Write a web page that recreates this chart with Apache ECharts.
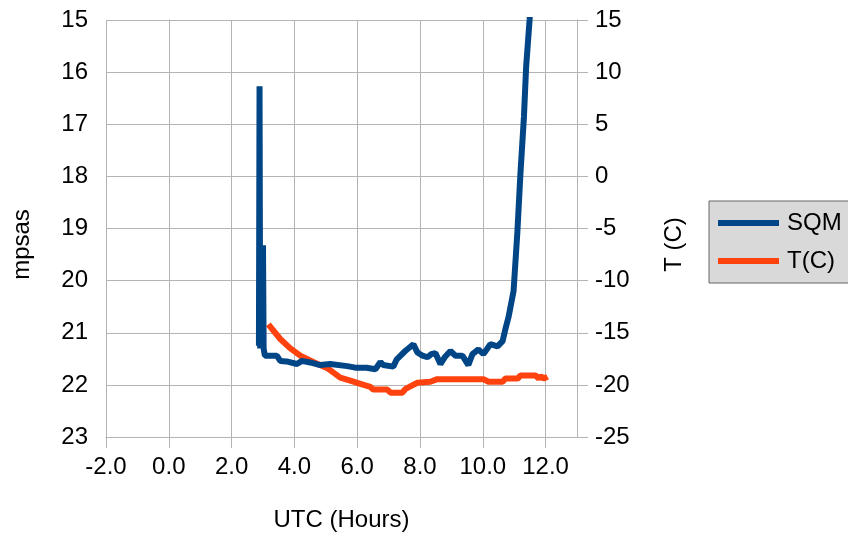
<!DOCTYPE html>
<html>
<head>
<meta charset="utf-8">
<script src="https://cdn.jsdelivr.net/npm/echarts@6/dist/echarts.min.js"></script>
<style>
  html, body { margin: 0; padding: 0; background: #ffffff; }
  #chart { width: 848px; height: 537px; }
</style>
</head>
<body>
<div id="chart"></div>
<script>
// ---- data ----
var xTickValues = [-2, 0, 2, 4, 6, 8, 10, 12];

var sqmHours  = [2.87, 2.89, 2.91, 2.96, 3.00, 3.02, 3.06, 3.44, 3.55, 3.75, 4.08, 4.24, 4.50, 4.82, 5.14, 5.68, 5.94, 6.30, 6.58, 6.74, 6.83, 7.15, 7.26, 7.53, 7.79, 7.92, 8.08, 8.24, 8.36, 8.49, 8.65, 8.80, 8.97, 9.13, 9.35, 9.54, 9.67, 9.86, 10.02, 10.24, 10.47, 10.63, 10.72, 10.82, 10.98, 11.10, 11.20, 11.31, 11.38, 11.49, 11.58];
var sqmValues = [21.25, 16.27, 21.30, 21.28, 19.32, 21.30, 21.44, 21.44, 21.54, 21.55, 21.60, 21.54, 21.57, 21.62, 21.60, 21.64, 21.67, 21.67, 21.70, 21.56, 21.62, 21.65, 21.51, 21.35, 21.22, 21.38, 21.44, 21.47, 21.41, 21.39, 21.60, 21.46, 21.35, 21.44, 21.44, 21.62, 21.41, 21.32, 21.41, 21.22, 21.26, 21.16, 20.93, 20.70, 20.20, 19.08, 17.93, 16.86, 15.90, 15.00, 14.20];

var tempHours  = [3.17, 3.55, 3.87, 4.19, 4.60, 5.05, 5.46, 5.78, 6.10, 6.42, 6.51, 6.96, 7.06, 7.44, 7.53, 7.69, 7.92, 8.33, 8.55, 10.02, 10.18, 10.63, 10.72, 11.11, 11.20, 11.68, 11.78, 11.84, 11.94, 12.06];
var tempValues = [-14.2, -15.6, -16.5, -17.2, -17.8, -18.4, -19.3, -19.6, -19.9, -20.2, -20.45, -20.45, -20.75, -20.75, -20.4, -20.15, -19.8, -19.7, -19.45, -19.45, -19.7, -19.7, -19.4, -19.4, -19.1, -19.1, -19.4, -19.15, -19.4, -19.2];

function pairs(xs, ys) {
  var out = [];
  for (var i = 0; i < xs.length; i++) out.push([xs[i], ys[i]]);
  return out;
}

var FONT = 'Liberation Sans';
var GRID = '#b3b3b3';

var chart = echarts.init(document.getElementById('chart'), null, { renderer: 'canvas' });
chart.setOption({
  animation: false,
  backgroundColor: '#ffffff',
  textStyle: { fontFamily: FONT },
  grid: { left: 106, right: 271, top: 20, bottom: 99, containLabel: false },
  legend: {
    orient: 'vertical',
    left: 709,
    top: 201,
    padding: [10, 9, 10, 9],
    itemWidth: 61,
    itemHeight: 6,
    itemGap: 14,
    icon: 'rect',
    backgroundColor: '#d9d9d9',
    borderColor: '#666666',
    borderWidth: 1,
    borderRadius: 0,
    textStyle: { fontFamily: FONT, fontSize: 24, color: '#000000', lineHeight: 24, padding: [0, 0, 0, 3] },
    data: ['SQM', 'T(C)']
  },
  xAxis: {
    type: 'value',
    min: -2,
    max: 13,
    interval: 2,
    name: 'UTC (Hours)',
    nameLocation: 'middle',
    nameGap: 71,
    nameTextStyle: { fontFamily: FONT, fontSize: 24, color: '#000000' },
    axisLine: { show: true, onZero: false, lineStyle: { color: GRID, width: 1 } },
    axisTick: { show: true, inside: false, length: 11, customValues: xTickValues, lineStyle: { color: GRID, width: 1 } },
    axisLabel: {
      margin: 18, fontFamily: FONT, fontSize: 24, color: '#000000',
      customValues: xTickValues,
      formatter: function (v) { return v.toFixed(1); }
    },
    splitLine: { show: true, lineStyle: { color: GRID, width: 1 } }
  },
  yAxis: [
    {
      type: 'value',
      min: 15,
      max: 23,
      interval: 1,
      inverse: true,
      position: 'left',
      name: 'mpsas',
      nameLocation: 'middle',
      nameRotate: 90,
      nameGap: 72,
      nameTextStyle: { fontFamily: FONT, fontSize: 24, color: '#000000', padding: [0, 32, 0, 0] },
      axisLine: { show: true, lineStyle: { color: GRID, width: 1 } },
      axisTick: { show: true, inside: false, length: 11, lineStyle: { color: GRID, width: 1 } },
      axisLabel: { margin: 18, fontFamily: FONT, fontSize: 24, color: '#000000' },
      splitLine: { show: true, lineStyle: { color: GRID, width: 1 } }
    },
    {
      type: 'value',
      min: -25,
      max: 15,
      interval: 5,
      position: 'right',
      name: 'T (C)',
      nameLocation: 'middle',
      nameRotate: 90,
      nameGap: 85,
      nameTextStyle: { fontFamily: FONT, fontSize: 24, color: '#000000', padding: [0, 32, 0, 0] },
      axisLine: { show: true, lineStyle: { color: GRID, width: 1 } },
      axisTick: { show: true, inside: false, length: 11, lineStyle: { color: GRID, width: 1 } },
      axisLabel: { margin: 18, fontFamily: FONT, fontSize: 24, color: '#000000' },
      splitLine: { show: false }
    }
  ],
  series: [
    {
      name: 'SQM',
      type: 'line',
      yAxisIndex: 0,
      z: 3,
      data: pairs(sqmHours, sqmValues),
      showSymbol: false,
      symbol: 'none',
      clip: true,
      color: '#004586',
      lineStyle: { color: '#004586', width: 6 }
    },
    {
      name: 'T(C)',
      type: 'line',
      yAxisIndex: 1,
      z: 2,
      data: pairs(tempHours, tempValues),
      showSymbol: false,
      symbol: 'none',
      clip: true,
      color: '#ff420e',
      lineStyle: { color: '#ff420e', width: 6 }
    }
  ]
});
</script>
</body>
</html>
